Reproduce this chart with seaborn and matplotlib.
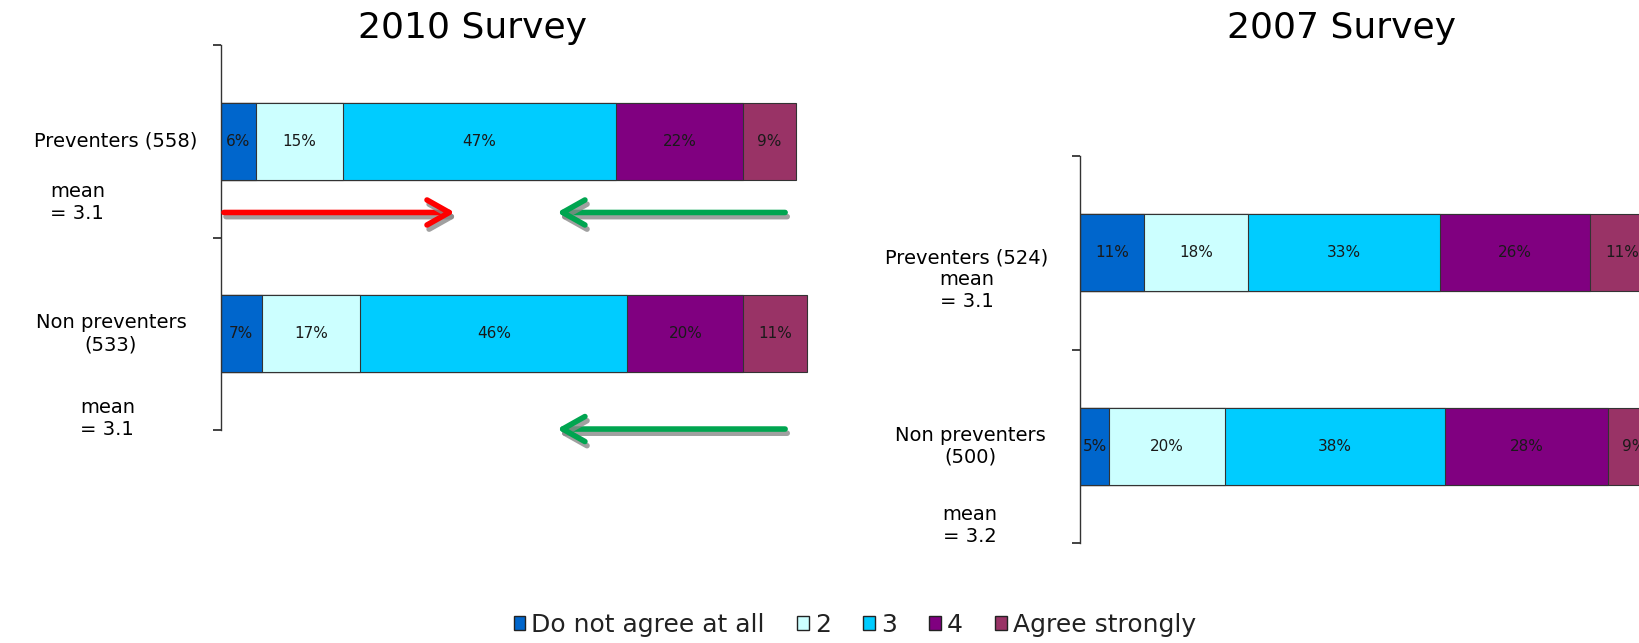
import numpy as np
import pandas as pd
import seaborn as sns
import matplotlib.pyplot as plt
import matplotlib.patheffects as pe
from matplotlib.patches import Patch

# data
levels = ["Do not agree at all", "2", "3", "4", "Agree strongly"]
colors = ["#0066CC", "#CCFFFF", "#00CCFF", "#800080", "#993366"]

groups_2010 = ["Preventers (558)", "Non preventers\n(533)"]
pct_2010 = [[6, 15, 47, 22, 9], [7, 17, 46, 20, 11]]
means_2010 = ["3.1", "3.1"]

groups_2007 = ["Preventers (524)", "Non preventers\n(500)"]
pct_2007 = [[11, 18, 33, 26, 11], [5, 20, 38, 28, 9]]
means_2007 = ["3.1", "3.2"]

# arrows on the 2010 panel: (start %, end %, row position, colour)
arrows_2010 = [(0.5, 40.3, 0.37, "#FF0000"),
               (97.2, 57.9, 0.37, "#00A550"),
               (97.2, 57.9, 1.495, "#00A550")]

sns.set_style("white")
plt.rcParams["font.family"] = ["DejaVu Sans"]

fig = plt.figure(figsize=(16.4, 6.43), dpi=100)
ax1 = fig.add_axes([221 / 1640, 1 - 430 / 643, 592 / 1640, 385 / 643])
ax2 = fig.add_axes([1080 / 1640, 1 - 543 / 643, 580 / 1640, 387 / 643])


def stacked(ax, groups, pct, xmax):
    df = pd.DataFrame(pct, columns=levels)
    df["group"] = groups
    cum = df[levels].cumsum(axis=1)
    cum["group"] = groups
    # widest first, so the shorter cumulative bars sit on top
    for lev, col in zip(levels[::-1], colors[::-1]):
        sns.barplot(data=cum, x=lev, y="group", order=groups, color=col,
                    orient="h", width=0.4, edgecolor="#333333", linewidth=0.8,
                    errorbar=None, saturation=1, ax=ax)
    for i in range(len(groups)):
        for lev in levels:
            mid = cum.loc[i, lev] - df.loc[i, lev] / 2
            ax.text(mid, i, f"{df.loc[i, lev]}%", ha="center", va="center",
                    fontsize=11, color="#1a1a1a")
    ax.set_xlim(0, xmax)
    ax.set_ylim(1.5, -0.5)
    ax.set_xlabel("")
    ax.set_ylabel("")
    ax.set_xticks([])
    ax.set_yticks([-0.5, 0.5, 1.5])
    ax.set_yticklabels([])
    ax.tick_params(axis="y", left=True, length=6, width=1.2, color="#222222", direction="out")
    for s in ["top", "right", "bottom"]:
        ax.spines[s].set_visible(False)
    ax.spines["left"].set_color("#333333")
    ax.spines["left"].set_linewidth(1)


stacked(ax1, groups_2010, pct_2010, 102)
stacked(ax2, groups_2007, pct_2007, 100)

lab = dict(xycoords=("axes fraction", "data"), textcoords="offset pixels",
           fontsize=14, color="black", annotation_clip=False)

# 2010 labels
ax1.annotate(groups_2010[0], xy=(0, 0), xytext=(-24, 0), ha="right", va="center", **lab)
ax1.annotate("mean\n= " + means_2010[0], xy=(0, 0.32), xytext=(-171, 0), ha="left", va="center", **lab)
ax1.annotate(groups_2010[1], xy=(0, 1), xytext=(-110, 0), ha="center", va="center",
             multialignment="center", **lab)
ax1.annotate("mean\n= " + means_2010[1], xy=(0, 1.44), xytext=(-141, 0), ha="left", va="center", **lab)

# 2007 labels
ax2.annotate(groups_2007[0] + "\nmean\n= " + means_2007[0], xy=(0, 0.14), xytext=(-113, 0),
             ha="center", va="center", multialignment="center", **lab)
ax2.annotate(groups_2007[1], xy=(0, 1), xytext=(-110, 0), ha="center", va="center",
             multialignment="center", **lab)
ax2.annotate("mean\n= " + means_2007[1], xy=(0, 1.41), xytext=(-110, 0), ha="center", va="center",
             multialignment="center", **lab)

for x0, x1, y, c in arrows_2010:
    ax1.annotate("", xy=(x1, y), xytext=(x0, y), annotation_clip=False,
                 arrowprops=dict(arrowstyle="->,head_length=0.8,head_width=0.45",
                                 lw=4, color=c, shrinkA=0, shrinkB=0, mutation_scale=20,
                                 path_effects=[pe.SimpleLineShadow(offset=(1.5, -3), shadow_color="#888888", alpha=0.8),
                                               pe.Normal()]))

fig.text(473 / 1640, 1 - 28 / 643, "2010 Survey", ha="center", va="center", fontsize=26, color="black")
fig.text(1342 / 1640, 1 - 28 / 643, "2007 Survey", ha="center", va="center", fontsize=26, color="black")

handles = [Patch(facecolor=c, edgecolor="#222222", linewidth=1) for c in colors]
fig.legend(handles, levels, loc="center", bbox_to_anchor=(855 / 1640, 1 - 625 / 643),
           ncol=5, frameon=False, fontsize=18, handlelength=0.45, handleheight=0.5,
           handletextpad=0.25, columnspacing=1.3, labelcolor="#222222")

fig.savefig("out.png", dpi=100)
